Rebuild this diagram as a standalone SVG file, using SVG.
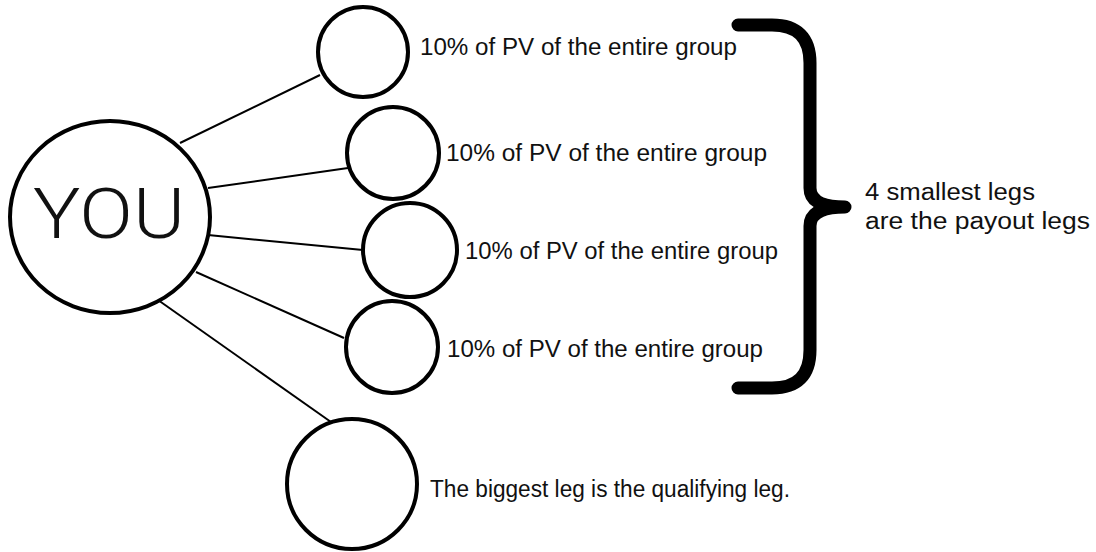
<svg xmlns="http://www.w3.org/2000/svg" width="1096" height="552" viewBox="0 0 1096 552">
<style>
.node{fill:#fff;stroke:#000;stroke-width:4}
.conn{stroke:#000;stroke-width:2;fill:none}
.lbl{font-family:"Liberation Sans",Arial,sans-serif;font-size:23px;fill:#111}
.you{font-family:"Roboto","Liberation Sans",Arial,sans-serif;font-size:70px;font-weight:300;fill:#111}
.brace{fill:none;stroke:#000;stroke-width:13;stroke-linecap:round;stroke-linejoin:round}
</style>
<rect width="1096" height="552" fill="#fff"/>
<g id="connectors">
<line class="conn" x1="180" y1="143" x2="320" y2="75"/>
<line class="conn" x1="208" y1="188" x2="348" y2="168"/>
<line class="conn" x1="208" y1="235" x2="363" y2="250"/>
<line class="conn" x1="196" y1="272" x2="344" y2="338"/>
<line class="conn" x1="158" y1="300" x2="331" y2="422"/>
</g>
<g id="you">
<ellipse class="node" cx="110" cy="217" rx="100" ry="96"/>
<text class="you" x="33" y="238" textLength="152" lengthAdjust="spacingAndGlyphs">YOU</text>
</g>
<g id="leg1">
<circle class="node" cx="363" cy="52" r="45"/>
<text class="lbl" x="420" y="55" textLength="317" lengthAdjust="spacingAndGlyphs">10% of PV of the entire group</text>
</g>
<g id="leg2">
<circle class="node" cx="393" cy="153" r="46"/>
<text class="lbl" x="446" y="161" textLength="321" lengthAdjust="spacingAndGlyphs">10% of PV of the entire group</text>
</g>
<g id="leg3">
<circle class="node" cx="410" cy="250" r="47"/>
<text class="lbl" x="465" y="259" textLength="313" lengthAdjust="spacingAndGlyphs">10% of PV of the entire group</text>
</g>
<g id="leg4">
<circle class="node" cx="392" cy="347" r="46"/>
<text class="lbl" x="447" y="357" textLength="316" lengthAdjust="spacingAndGlyphs">10% of PV of the entire group</text>
</g>
<g id="leg5">
<circle class="node" cx="352" cy="484" r="65"/>
<text class="lbl" x="430" y="497" textLength="360" lengthAdjust="spacingAndGlyphs">The biggest leg is the qualifying leg.</text>
</g>
<g id="brace">
<path class="brace" d="M738 25 H772 Q810 25 810 63 V188 Q810 207 845 207 Q810 207 810 226 V350 Q810 388 772 388 H738"/>
<text class="lbl" x="865" y="200" textLength="170" lengthAdjust="spacingAndGlyphs">4 smallest legs</text>
<text class="lbl" x="865" y="229" textLength="225" lengthAdjust="spacingAndGlyphs">are the payout legs</text>
</g>
</svg>
